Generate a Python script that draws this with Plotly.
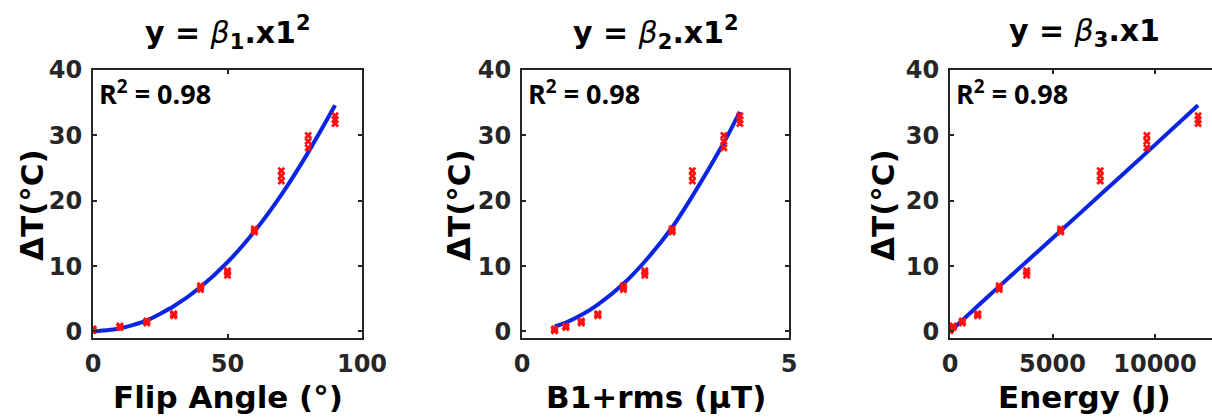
import plotly.graph_objects as go

# ---------------- data ----------------
flip_angle = [0, 10, 20, 30, 40, 50, 60, 70, 80, 90]
b1rms = [0.61, 0.82, 1.11, 1.42, 1.90, 2.30, 2.81, 3.19, 3.78, 4.08]
energy = [0, 150, 600, 1350, 2400, 3740, 5400, 7330, 9600, 12100]

dT_rep1 = [0.10, 0.60, 1.30, 2.40, 6.40, 8.60, 15.2, 23.0, 28.1, 31.8]
dT_rep2 = [0.25, 0.70, 1.45, 2.55, 6.70, 9.00, 15.45, 23.8, 29.1, 32.4]
dT_rep3 = [0.40, 0.85, 1.60, 2.70, 7.00, 9.30, 15.7, 24.6, 30.0, 33.0]

fit_fa = [0.0, 0.45, 1.7, 3.85, 6.8, 10.6, 15.3, 20.9, 27.4, 34.6]
fit_b1 = [0.75, 1.36, 2.5, 4.1, 7.3, 10.7, 15.9, 20.7, 28.9, 33.6]
fit_energy = [0.0, 0.43, 1.7, 3.9, 6.9, 10.7, 15.4, 20.9, 27.4, 34.6]

titles = ["y = β<sub>1</sub>.x1<sup>2</sup>",
          "y = β<sub>2</sub>.x1<sup>2</sup>",
          "y = β<sub>3</sub>.x1"]
x_labels = ["Flip Angle (°)", "B1+rms (µT)", "Energy (J)"]
y_label = "ΔT(°C)"
r2_label = "R<sup>2</sup> = 0.98"
x_ticks = [[0, 50, 100], [0, 5], [0, 5000, 10000]]
x_ticktext = [["0", "50", "100"], ["0", "5"], ["0", "5000", "10000"]]
x_ranges = [[0, 100], [0, 5], [0, 12780]]
y_ticks = [0, 10, 20, 30, 40]

# ---------------- layout geometry ----------------
W, H = 1212, 419
px_domains = [(93, 362), (522, 789), (950, 1212)]
y_top, y_bot = 70, 338
ytitle_px = [32, 459, 883]

ink = "#262626"
red = "#ff1010"
blue = "#0a24e6"
FONT = "DejaVu Sans"

fig = go.Figure()
xs_all = [flip_angle, b1rms, energy]
fits = [fit_fa, fit_b1, fit_energy]

for i in range(3):
    sfx = "" if i == 0 else str(i + 1)
    xs = xs_all[i]
    fig.add_trace(go.Scatter(
        x=xs, y=fits[i], mode="lines",
        line=dict(color=blue, width=4, shape="spline", smoothing=0.6),
        xaxis="x" + sfx, yaxis="y" + sfx, showlegend=False, hoverinfo="skip"))
    for rep in (dT_rep1, dT_rep2, dT_rep3):
        fig.add_trace(go.Scatter(
            x=xs, y=rep, mode="markers",
            marker=dict(symbol="x", size=7, color=red, line=dict(width=0)),
            xaxis="x" + sfx, yaxis="y" + sfx, showlegend=False))

annotations = []
for i in range(3):
    sfx = "" if i == 0 else str(i + 1)
    l, r = px_domains[i]
    dom = [l / W, min(r / W, 1.0)]
    mirror_y = "ticks" if i < 2 else False
    fig.update_layout(**{
        "xaxis" + sfx: dict(
            domain=dom, anchor="y" + sfx, range=x_ranges[i], automargin=False,
            tickmode="array", tickvals=x_ticks[i], ticktext=x_ticktext[i],
            ticks="inside", ticklen=4, tickwidth=2, tickcolor=ink,
            showline=True, linecolor=ink, linewidth=2, mirror="ticks",
            showgrid=False, zeroline=False, ticklabelstandoff=3,
            tickfont=dict(family=FONT, size=24, color=ink, weight="bold")),
        "yaxis" + sfx: dict(
            domain=[1 - y_bot / H, 1 - y_top / H], anchor="x" + sfx,
            range=[-1, 40], tickmode="array", tickvals=y_ticks, automargin=False,
            ticks="inside", ticklen=4, tickwidth=2, tickcolor=ink,
            showline=True, linecolor=ink, linewidth=2, mirror=mirror_y,
            showgrid=False, zeroline=False, ticklabelstandoff=4,
            tickfont=dict(family=FONT, size=24, color=ink, weight="bold")),
    })
    cx = (l + (l + 268)) / 2 / W if i == 2 else (l + r) / 2 / W
    # panel title
    annotations.append(dict(
        text=titles[i].replace("β", "<span style='font-weight:normal'><i>β</i></span>"),
        xref="paper", yref="paper", x=cx, y=1 - 33 / H,
        xanchor="center", yanchor="middle", showarrow=False,
        font=dict(family=FONT, size=30, color="#000000", weight="bold")))
    # x label
    annotations.append(dict(
        text=x_labels[i], xref="paper", yref="paper", x=cx, y=1 - 397 / H,
        xanchor="center", yanchor="middle", showarrow=False,
        font=dict(family=FONT, size=31, color="#000000", weight="bold")))
    # y label
    annotations.append(dict(
        text=y_label, xref="paper", yref="paper", x=ytitle_px[i] / W,
        y=1 - 205 / H, xanchor="center", yanchor="middle", textangle=-90,
        showarrow=False,
        font=dict(family=FONT, size=31, color="#000000", weight="bold")))
    # R^2
    annotations.append(dict(
        text=r2_label, xref="paper", yref="paper", x=(l + 4) / W,
        y=1 - 92 / H, xanchor="left", yanchor="middle", showarrow=False,
        font=dict(family="Open Sans", size=27, color="#000000", weight="bold")))

fig.update_layout(
    width=W, height=H, autosize=False,
    margin=dict(l=0, r=0, t=0, b=0, pad=0),
    paper_bgcolor="white", plot_bgcolor="white",
    annotations=annotations, showlegend=False)

fig.write_html(
    "out.html",
    config={"displayModeBar": False},
    post_script="document.body.style.margin='0';"
                "document.body.style.overflow='hidden';"
                "document.documentElement.style.overflow='hidden';")
